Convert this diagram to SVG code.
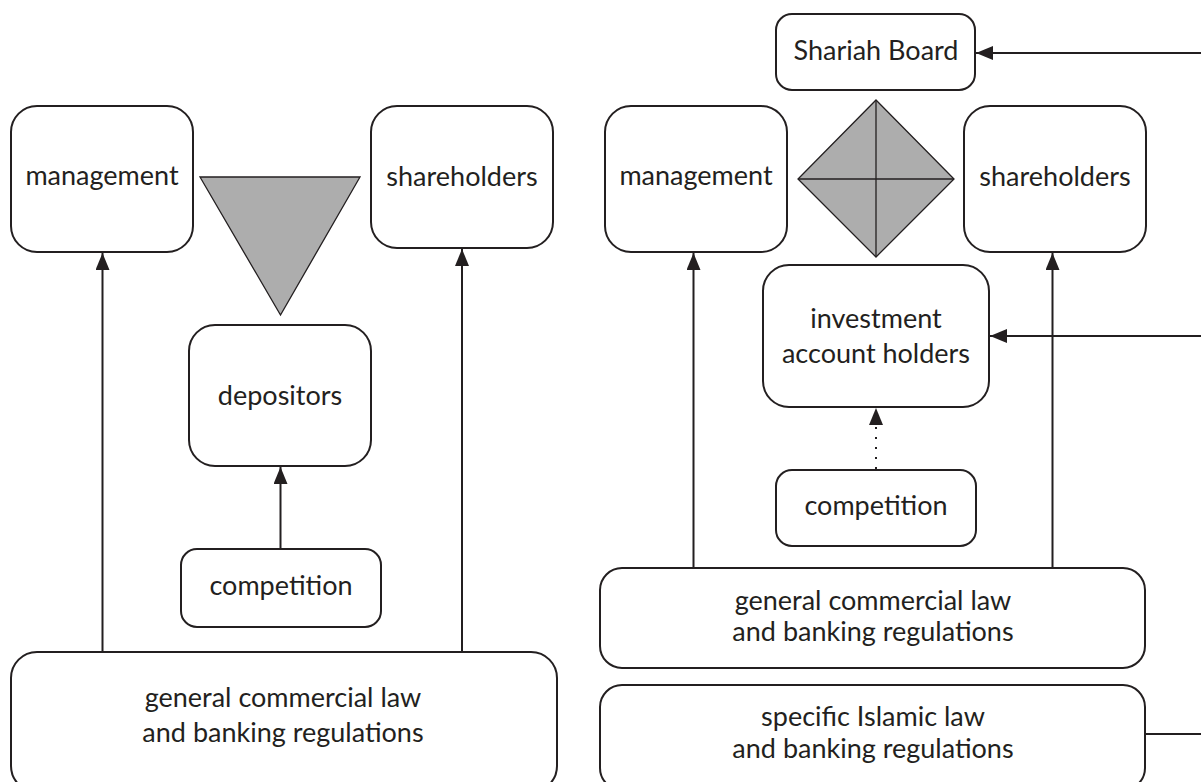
<svg xmlns="http://www.w3.org/2000/svg" width="1201" height="782" viewBox="0 0 1201 782">
<style>
.box{fill:#fff;stroke:#231f20;stroke-width:2}
.t{font-family:Lato,"Open Sans",sans-serif;font-size:27px;fill:#231f20;text-anchor:middle}
.c{fill:none;stroke:#231f20;stroke-width:2}
.d{fill:none;stroke:#231f20;stroke-width:2;stroke-dasharray:2 8}
.g{fill:#adadad;stroke:#231f20;stroke-width:1.3}
</style>
<defs>
<marker id="ah" viewBox="0 0 17 14" markerWidth="17" markerHeight="14" refX="17" refY="7" orient="auto" markerUnits="userSpaceOnUse">
<path d="M0,0 L17,7 L0,14 Z" fill="#231f20"/>
</marker>
</defs>
<rect width="1201" height="782" fill="#fff"/>
<g id="connectors">
<line class="c" x1="102.5" y1="652" x2="102.5" y2="253" marker-end="url(#ah)"/>
<line class="c" x1="462" y1="652" x2="462" y2="249" marker-end="url(#ah)"/>
<line class="c" x1="280.5" y1="549" x2="280.5" y2="467" marker-end="url(#ah)"/>
<line class="c" x1="693.5" y1="568" x2="693.5" y2="253" marker-end="url(#ah)"/>
<line class="c" x1="1052.5" y1="568" x2="1052.5" y2="253" marker-end="url(#ah)"/>
<line class="d" x1="876" y1="469" x2="876" y2="422"/>
<line class="c" x1="876" y1="424" x2="876" y2="408" marker-end="url(#ah)" stroke-opacity="0"/>
<line class="c" x1="1201" y1="53" x2="976" y2="53" marker-end="url(#ah)"/>
<line class="c" x1="1201" y1="336" x2="990" y2="336" marker-end="url(#ah)"/>
<line class="c" x1="1145" y1="734" x2="1201" y2="734"/>
</g>
<g id="left-management"><rect class="box" x="11" y="106" width="182" height="146" rx="26"/><text class="t" x="102" y="185">management</text></g>
<g id="left-shareholders"><rect class="box" x="371" y="106" width="182" height="142" rx="26"/><text class="t" x="462" y="186">shareholders</text></g>
<g id="left-triangle"><polygon class="g" points="200,177 360,177 280.5,315"/></g>
<g id="left-depositors"><rect class="box" x="189" y="325" width="182" height="141" rx="26"/><text class="t" x="280" y="405">depositors</text></g>
<g id="left-competition"><rect class="box" x="181" y="549" width="200" height="78" rx="16"/><text class="t" x="281" y="595">competition</text></g>
<g id="left-law"><rect class="box" x="11" y="652" width="546" height="140" rx="26"/><text class="t" x="283" y="707">general commercial law</text><text class="t" x="283" y="742">and banking regulations</text></g>
<g id="shariah-board"><rect class="box" x="776" y="14" width="199" height="76" rx="16"/><text class="t" x="876" y="60">Shariah Board</text></g>
<g id="right-management"><rect class="box" x="605" y="106" width="182" height="146" rx="26"/><text class="t" x="696" y="185">management</text></g>
<g id="right-shareholders"><rect class="box" x="964" y="106" width="182" height="146" rx="26"/><text class="t" x="1055" y="186">shareholders</text></g>
<g id="right-diamond"><polygon class="g" points="876,100 954,179 876,257 798,179"/><line class="g" x1="876" y1="100" x2="876" y2="257"/><line class="g" x1="798" y1="179" x2="954" y2="179"/></g>
<g id="iah"><rect class="box" x="763" y="265" width="226" height="142" rx="26"/><text class="t" x="876" y="328">investment</text><text class="t" x="876" y="363">account holders</text></g>
<g id="right-competition"><rect class="box" x="776" y="470" width="200" height="76" rx="16"/><text class="t" x="876" y="515">competition</text></g>
<g id="right-law"><rect class="box" x="600" y="568" width="545" height="100" rx="22"/><text class="t" x="873" y="610">general commercial law</text><text class="t" x="873" y="641">and banking regulations</text></g>
<g id="specific-law"><rect class="box" x="600" y="685" width="545" height="105" rx="22"/><text class="t" x="873" y="726">specific Islamic law</text><text class="t" x="873" y="758">and banking regulations</text></g>
</svg>
